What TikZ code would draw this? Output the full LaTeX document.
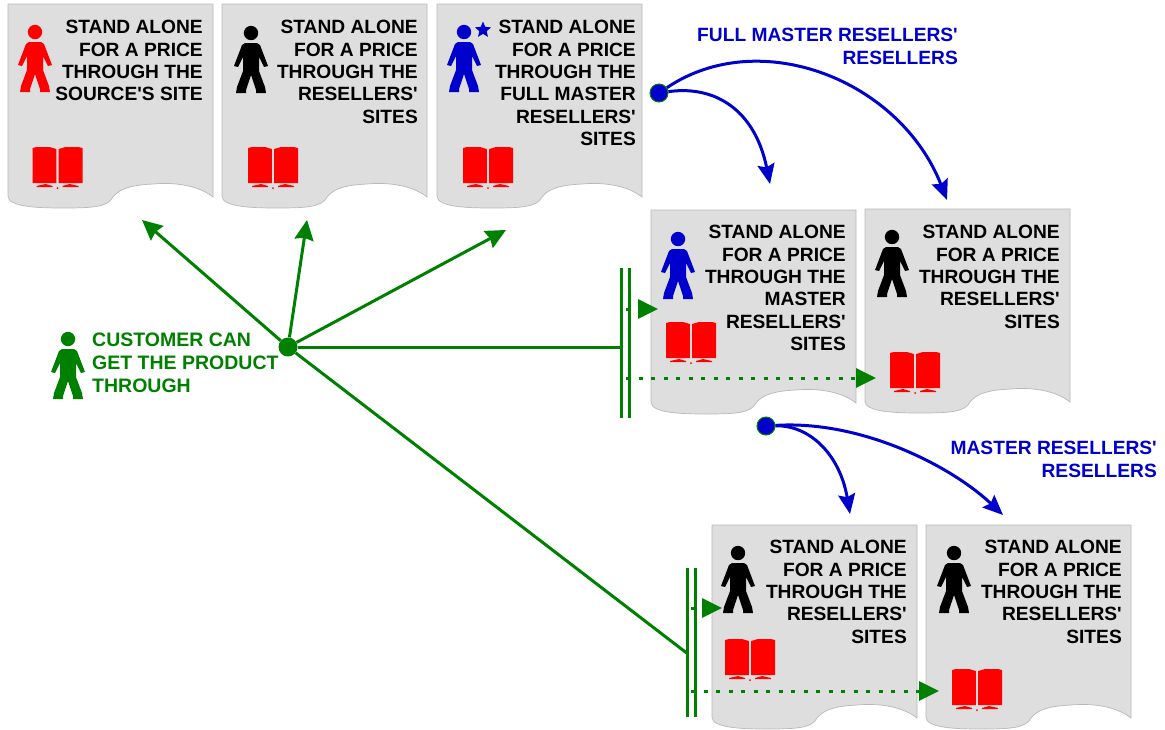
\documentclass[tikz,border=0pt]{standalone}
\usepackage{fontspec}
\usepackage{xcolor}
\usepackage{tikz}
\usetikzlibrary{arrows.meta,shapes.geometric}
\newfontfamily\labelfont{Liberation Sans}
\definecolor{sheetgray}{HTML}{DEDEDE}
\definecolor{custgreen}{HTML}{008000}
\definecolor{resblue}{HTML}{0000CC}
\definecolor{bookred}{HTML}{FF0000}
\tikzset{
    sheet/.pic={
        \draw[draw=black!28, line width=0.7pt, fill=sheetgray] (0,0) -- (205,0) -- (205,193)
            .. controls (190,181) and (165,178) .. (145,180)
            .. controls (125,181) and (112,184) .. (105,193)
            .. controls (100,203) and (85,204) .. (55,204)
            .. controls (30,204) and (0,203) .. (0,192) -- cycle;
    },
    person/.pic={
        \fill[#1] (0,0) circle (7.2);
        \fill[#1] (-6,10) -- (6,10) -- (9,12) -- (17,33) -- (13,34) -- (8,24) -- (8,38) -- (14,54) -- (15,60)
            -- (5,60) -- (5,57) -- (0,42) -- (-5,57) -- (-5,60) -- (-15,60) -- (-14,54) -- (-8,38) -- (-8,24)
            -- (-13,34) -- (-17,33) -- (-9,12) -- cycle;
    },
    book/.pic={
        \fill[bookred] (-25,-19) -- (-21,-20) -- (-8,-20) -- (-1.2,-18) -- (-1.2,16) -- (-25,16) -- cycle;
        \fill[bookred] (25,-19) -- (21,-20) -- (8,-20) -- (1.2,-18) -- (1.2,16) -- (25,16) -- cycle;
        \fill[bookred] (-21,19) -- (-12,17) -- (-5,19) -- (-5,20) -- (-21,20) -- cycle;
        \fill[bookred] (21,19) -- (12,17) -- (5,19) -- (5,20) -- (21,20) -- cycle;
        \fill[bookred] (0,21) circle (1);
    },
    sheettext/.style={anchor=north east, align=right, inner sep=0pt, text=black,
        font=\labelfont\bfseries\fontsize{19.2}{22.4}\selectfont},
    bluetext/.style={anchor=north east, align=right, inner sep=0pt, text=resblue,
        font=\labelfont\bfseries\fontsize{19.2}{23}\selectfont},
    greentext/.style={anchor=north west, align=left, inner sep=0pt, text=custgreen,
        font=\labelfont\bfseries\fontsize{19.5}{23}\selectfont},
    greenhub/.style={circle, fill=custgreen, inner sep=0pt, minimum size=19pt},
    bluehub/.style={circle, draw=custgreen, fill=resblue, line width=1pt, inner sep=0pt, minimum size=18pt},
    greenline/.style={draw=custgreen, line width=3pt},
    greenarrow/.style={greenline, -{Stealth[length=20pt,width=19pt,inset=2pt]}},
    dotarrow/.style={greenline, dash pattern=on 4pt off 8.5pt, -{Triangle[length=20pt,width=19pt]}},
    bluearrow/.style={draw=resblue, line width=3pt, -{Stealth[length=20pt,width=17pt,inset=3pt]}},
}
\begin{document}
\begin{tikzpicture}[x=1pt,y=-1pt]
    \useasboundingbox (0,0) rectangle (1165,729);
    %
    \pic at (8,4) {sheet};
    \pic at (222,4) {sheet};
    \pic at (437,4) {sheet};
    \pic at (651,210) {sheet};
    \pic at (865,209) {sheet};
    \pic at (712,525) {sheet};
    \pic at (926,525) {sheet};
    %
    \pic at (35,32) {person=bookred};
    \pic at (251,33) {person=black};
    \pic at (464,32) {person=resblue};
    \pic at (678,239) {person=resblue};
    \pic at (892,237) {person=black};
    \pic at (738,553) {person=black};
    \pic at (954,553) {person=black};
    \pic at (68,339) {person=custgreen};
    \node (star) [star, star points=5, star point ratio=2.2, fill=resblue, inner sep=0pt, minimum size=17pt] at (483,30) {};
    %
    \pic at (57.5,167) {book};
    \pic at (273,167) {book};
    \pic at (488,167) {book};
    \pic at (691,342) {book};
    \pic at (915,372) {book};
    \pic at (750,659) {book};
    \pic at (977,689) {book};
    %
    \node (textA) [sheettext] at (203,20) {STAND ALONE\\FOR A PRICE\\THROUGH THE\\SOURCE'S SITE};
    \node (textB) [sheettext] at (418,20) {STAND ALONE\\FOR A PRICE\\THROUGH THE\\RESELLERS'\\SITES};
    \node (textC) [sheettext] at (636,20) {STAND ALONE\\FOR A PRICE\\THROUGH THE\\FULL MASTER\\RESELLERS'\\SITES};
    \node (textD) [sheettext] at (846,225) {STAND ALONE\\FOR A PRICE\\THROUGH THE\\MASTER\\RESELLERS'\\SITES};
    \node (textE) [sheettext] at (1060,225) {STAND ALONE\\FOR A PRICE\\THROUGH THE\\RESELLERS'\\SITES};
    \node (textF) [sheettext] at (907,540) {STAND ALONE\\FOR A PRICE\\THROUGH THE\\RESELLERS'\\SITES};
    \node (textG) [sheettext] at (1122,540) {STAND ALONE\\FOR A PRICE\\THROUGH THE\\RESELLERS'\\SITES};
    %
    \node (custlabel) [greentext] at (92,333) {CUSTOMER CAN\\GET THE PRODUCT\\THROUGH};
    \node (fulllabel) [bluetext] at (958,28) {FULL MASTER RESELLERS'\\RESELLERS};
    \node (masterlabel) [bluetext] at (1157,441) {MASTER RESELLERS'\\RESELLERS};
    %
    \node (custhub) [greenhub] at (288,347) {};
    \node (fullhub) [bluehub] at (659,93) {};
    \node (masterhub) [bluehub] at (766,426) {};
    %
    \coordinate (tipA) at (142,220);
    \coordinate (tipB) at (307,220);
    \coordinate (tipC) at (506,230);
    \coordinate (barDjoin) at (621,347);
    \coordinate (barFjoin) at (688,654);
    \draw[greenarrow] (custhub) -- (tipA);
    \draw[greenarrow] (custhub) -- (tipB);
    \draw[greenarrow] (custhub) -- (tipC);
    \draw[greenline] (custhub) -- (barDjoin);
    \draw[greenline] (custhub) -- (barFjoin);
    %
    \coordinate (barDa) at (621,268);
    \coordinate (barDb) at (621,418);
    \coordinate (barDc) at (629,268);
    \coordinate (barDd) at (629,418);
    \coordinate (barFa) at (687,568);
    \coordinate (barFb) at (687,717);
    \coordinate (barFc) at (695,568);
    \coordinate (barFd) at (695,717);
    \draw[greenline] (barDa) -- (barDb);
    \draw[greenline] (barDc) -- (barDd);
    \draw[greenline] (barFa) -- (barFb);
    \draw[greenline] (barFc) -- (barFd);
    %
    \coordinate (dotDa) at (626,309);
    \coordinate (dotDb) at (658,309);
    \coordinate (dotEa) at (626,378);
    \coordinate (dotEb) at (876,378);
    \coordinate (dotFa) at (691,608);
    \coordinate (dotFb) at (722,608);
    \coordinate (dotGa) at (691,691);
    \coordinate (dotGb) at (939,691);
    \draw[dotarrow] (dotDa) -- (dotDb);
    \draw[dotarrow] (dotEa) -- (dotEb);
    \draw[dotarrow] (dotFa) -- (dotFb);
    \draw[dotarrow] (dotGa) -- (dotGb);
    %
    \coordinate (tipD) at (770,184);
    \coordinate (tipE) at (947,200);
    \coordinate (tipF) at (850,514);
    \coordinate (tipG) at (1003,515);
    \draw[bluearrow] (fullhub) .. controls (715,85) and (755,110) .. (tipD);
    \draw[bluearrow] (fullhub) .. controls (760,25) and (900,80) .. (tipE);
    \draw[bluearrow] (masterhub) .. controls (810,425) and (840,455) .. (tipF);
    \draw[bluearrow] (masterhub) .. controls (860,420) and (950,465) .. (tipG);
\end{tikzpicture}
\end{document}
